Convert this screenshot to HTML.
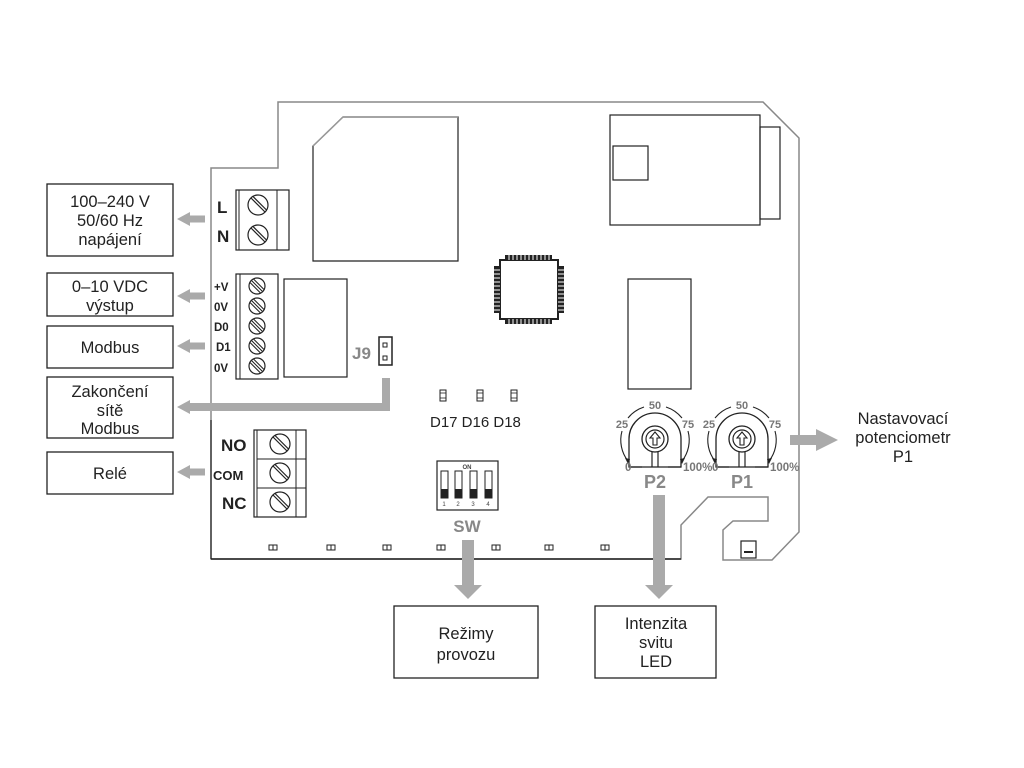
<!DOCTYPE html>
<html><head><meta charset="utf-8"><style>
html,body{margin:0;padding:0;background:#fff;}
svg{display:block;}
text{font-family:"Liberation Sans",sans-serif;}
</style></head><body>
<svg width="1024" height="768" viewBox="0 0 1024 768" xmlns="http://www.w3.org/2000/svg">
<defs>
<g id="scr"><circle r="10" fill="#fff" stroke="#222" stroke-width="1.2"/><line x1="-7" y1="-7" x2="7" y2="7" stroke="#222" stroke-width="1.2"/><line x1="-5" y1="-8.5" x2="8.5" y2="5" stroke="#222" stroke-width="1.2"/></g>
<g id="scs"><circle r="8" fill="#fff" stroke="#222" stroke-width="1.2"/><line x1="-5.5" y1="-5.5" x2="5.5" y2="5.5" stroke="#222" stroke-width="1.1"/><line x1="-3.5" y1="-7" x2="7" y2="3.5" stroke="#222" stroke-width="1.1"/><line x1="-7" y1="-3.5" x2="3.5" y2="7" stroke="#222" stroke-width="1.1"/></g>
<g id="lar"><polygon points="0,0 13,-7 13,-3.5 28,-3.5 28,3.5 13,3.5 13,7" fill="#aaa"/></g>
<g id="pad"><rect x="-4" y="-2" width="8" height="5" fill="#fff" stroke="#222" stroke-width="1"/><line x1="0" y1="-2" x2="0" y2="3" stroke="#222"/></g>
<g id="pot">
<path d="M-13,28 L-26,28 L-26,0 A26,26 0 1 1 26,0 L26,28 L13,28" fill="none" stroke="#222" stroke-width="1.3"/>
<line x1="-26" y1="28" x2="26" y2="28" stroke="#222" stroke-width="1.3"/>
<circle r="13" fill="#fff" stroke="#222" stroke-width="1.3"/>
<circle r="9" fill="#fff" stroke="#222" stroke-width="1.2"/>
<path d="M-2,6 L-2,-1 L-5,-1 L0,-7 L5,-1 L2,-1 L2,6 Z" fill="#fff" stroke="#222" stroke-width="1.1"/>
<line x1="-3" y1="13" x2="-3" y2="28" stroke="#222" stroke-width="1.2"/>
<line x1="3" y1="13" x2="3" y2="28" stroke="#222" stroke-width="1.2"/>
<path d="M-11,-32 A34,34 0 0 0 -27,-21" fill="none" stroke="#222" stroke-width="1.1"/>
<path d="M11,-32 A34,34 0 0 1 27,-21" fill="none" stroke="#222" stroke-width="1.1"/>
<path d="M-33,-8 A34,34 0 0 0 -27,22" fill="none" stroke="#222" stroke-width="1.1"/>
<path d="M33,-8 A34,34 0 0 1 27,22" fill="none" stroke="#222" stroke-width="1.1"/>
<polygon points="-27,25 -30,19 -25,20" fill="#222"/>
<polygon points="27,25 30,19 25,20" fill="#222"/>
<g font-weight="bold" font-size="11" fill="#777" text-anchor="middle">
<text x="0" y="-30">50</text><text x="-33" y="-11">25</text><text x="33" y="-11">75</text>
</g>
</g>
</defs>

<path d="M211,168 L211,559 L681,559 L681,525 L708,497 L768,497 L768,521 L733,521 L723,530 L723,560 L772,560 L799,532 L799,138 L763,102 L278,102 L278,168 Z" fill="none" stroke="#888" stroke-width="1.5"/>
<line x1="211" y1="559" x2="681" y2="559" stroke="#222" stroke-width="1.5"/>
<line x1="211" y1="420" x2="211" y2="559" stroke="#222" stroke-width="1.2"/>

<path d="M313,261 L313,146 L343,117 L458,117 L458,261 Z" fill="none" stroke="#222" stroke-width="1.2"/>
<path d="M313,146 L343,117 L458,117" fill="none" stroke="#999" stroke-width="1.5"/>

<rect x="610" y="115" width="150" height="110" fill="none" stroke="#222" stroke-width="1.2"/>
<rect x="613" y="146" width="35" height="34" fill="none" stroke="#222" stroke-width="1.2"/>
<rect x="760" y="127" width="20" height="92" fill="none" stroke="#222" stroke-width="1.2"/>

<rect x="500" y="260" width="58" height="59" fill="#fff" stroke="#222" stroke-width="2"/>
<g fill="#222">
<rect x="505" y="255" width="47" height="5"/><rect x="505" y="319" width="47" height="5"/>
<rect x="494" y="266" width="6" height="47"/><rect x="558" y="266" width="6" height="47"/>
</g>
<g stroke="#fff" stroke-width="1">
<path d="M509,255v5M513,255v5M517,255v5M521,255v5M525,255v5M529,255v5M533,255v5M537,255v5M541,255v5M545,255v5M549,255v5"/>
<path d="M509,319v5M513,319v5M517,319v5M521,319v5M525,319v5M529,319v5M533,319v5M537,319v5M541,319v5M545,319v5M549,319v5"/>
<path d="M494,270h6M494,274h6M494,278h6M494,282h6M494,286h6M494,290h6M494,294h6M494,298h6M494,302h6M494,306h6M494,310h6"/>
<path d="M558,270h6M558,274h6M558,278h6M558,282h6M558,286h6M558,290h6M558,294h6M558,298h6M558,302h6M558,306h6M558,310h6"/>
</g>

<rect x="628" y="279" width="63" height="110" fill="none" stroke="#222" stroke-width="1.2"/>

<rect x="236" y="190" width="53" height="60" fill="#fff" stroke="#222" stroke-width="1.2"/>
<line x1="239" y1="190" x2="239" y2="250" stroke="#222"/>
<line x1="277" y1="190" x2="277" y2="250" stroke="#222"/>
<use href="#scr" x="258" y="205"/><use href="#scr" x="258" y="235"/>
<text x="217" y="213" font-size="17" font-weight="bold" fill="#222">L</text>
<text x="217" y="242" font-size="17" font-weight="bold" fill="#222">N</text>

<rect x="236" y="274" width="42" height="105" fill="#fff" stroke="#222" stroke-width="1.2"/>
<line x1="240" y1="274" x2="240" y2="379" stroke="#222"/>
<use href="#scs" x="257" y="286"/><use href="#scs" x="257" y="306"/><use href="#scs" x="257" y="326"/><use href="#scs" x="257" y="346"/><use href="#scs" x="257" y="366"/>
<g font-size="11.5" font-weight="bold" fill="#222">
<text x="214" y="291">+V</text><text x="214" y="311">0V</text><text x="214" y="331">D0</text><text x="216" y="351">D1</text><text x="214" y="372">0V</text>
</g>
<rect x="284" y="279" width="63" height="98" fill="none" stroke="#222" stroke-width="1.2"/>

<rect x="379" y="337" width="13" height="28" fill="#fff" stroke="#222" stroke-width="1.5"/>
<rect x="383" y="343" width="4" height="4" fill="none" stroke="#222"/>
<rect x="383" y="356" width="4" height="4" fill="none" stroke="#222"/>
<text x="352" y="359" font-size="17" font-weight="bold" fill="#888">J9</text>

<rect x="254" y="430" width="52" height="87" fill="#fff" stroke="#222" stroke-width="1.2"/>
<line x1="257" y1="430" x2="257" y2="517" stroke="#222"/>
<line x1="296" y1="430" x2="296" y2="517" stroke="#222"/>
<line x1="257" y1="459" x2="306" y2="459" stroke="#222"/>
<line x1="257" y1="488" x2="306" y2="488" stroke="#222"/>
<use href="#scr" x="280" y="444"/><use href="#scr" x="280" y="473"/><use href="#scr" x="280" y="502"/>
<g font-weight="bold" fill="#222">
<text x="221" y="451" font-size="17">NO</text>
<text x="213" y="480" font-size="13">COM</text>
<text x="222" y="509" font-size="17">NC</text>
</g>

<g fill="#fff" stroke="#222" stroke-width="1">
<rect x="440" y="390" width="6" height="11"/><rect x="477" y="390" width="6" height="11"/><rect x="511" y="390" width="6" height="11"/>
</g>
<g stroke="#222" stroke-width="0.8"><line x1="440" y1="393" x2="446" y2="393"/><line x1="440" y1="398" x2="446" y2="398"/><line x1="477" y1="393" x2="483" y2="393"/><line x1="477" y1="398" x2="483" y2="398"/><line x1="511" y1="393" x2="517" y2="393"/><line x1="511" y1="398" x2="517" y2="398"/></g>
<text x="430" y="427" font-size="15" fill="#222">D17 D16 D18</text>

<rect x="437" y="461" width="61" height="49" fill="#fff" stroke="#222" stroke-width="1.2"/>
<text x="467" y="469" font-size="6" font-weight="bold" fill="#444" text-anchor="middle">ON</text>
<g fill="#fff" stroke="#222" stroke-width="1"><rect x="441" y="471" width="7" height="27"/><rect x="455" y="471" width="7" height="27"/><rect x="470" y="471" width="7" height="27"/><rect x="485" y="471" width="7" height="27"/></g>
<g fill="#222"><rect x="441" y="489" width="7" height="9"/><rect x="455" y="489" width="7" height="9"/><rect x="470" y="489" width="7" height="9"/><rect x="485" y="489" width="7" height="9"/></g>
<g font-size="6" fill="#444" text-anchor="middle"><text x="444" y="506">1</text><text x="458" y="506">2</text><text x="473" y="506">3</text><text x="488" y="506">4</text></g>
<text x="467" y="532" font-size="17" font-weight="bold" fill="#888" text-anchor="middle">SW</text>

<use href="#pad" x="273" y="547"/><use href="#pad" x="331" y="547"/><use href="#pad" x="387" y="547"/><use href="#pad" x="441" y="547"/><use href="#pad" x="496" y="547"/><use href="#pad" x="549" y="547"/><use href="#pad" x="605" y="547"/><use href="#pad" x="660" y="547"/>
<rect x="741" y="541" width="15" height="17" fill="#fff" stroke="#222" stroke-width="1.2"/>
<line x1="744" y1="552" x2="753" y2="552" stroke="#222" stroke-width="2"/>

<use href="#pot" x="655" y="439"/>
<use href="#pot" x="742" y="439"/>
<g font-weight="bold" font-size="11.5" fill="#777">
<text x="625" y="471">0</text><text x="683" y="471">100%</text>
<text x="712" y="471">0</text><text x="770" y="471">100%</text>
</g>
<text x="655" y="488" font-size="18" font-weight="bold" fill="#888" text-anchor="middle">P2</text>
<text x="742" y="488" font-size="18" font-weight="bold" fill="#888" text-anchor="middle">P1</text>

<rect x="382" y="378" width="8" height="33" fill="#aaa"/>
<rect x="190" y="403" width="200" height="8" fill="#aaa"/>
<polygon points="177,407 190,400 190,414" fill="#aaa"/>
<use href="#lar" x="177" y="219"/>
<use href="#lar" x="177" y="296"/>
<use href="#lar" x="177" y="346"/>
<use href="#lar" x="177" y="472"/>
<rect x="462" y="540" width="12" height="46" fill="#aaa"/>
<polygon points="454,585 482,585 468,599" fill="#aaa"/>
<rect x="653" y="495" width="12" height="90" fill="#aaa"/>
<polygon points="645,585 673,585 659,599" fill="#aaa"/>
<rect x="790" y="435" width="28" height="10" fill="#aaa"/>
<polygon points="816,429 838,440 816,451" fill="#aaa"/>

<g fill="#fff" stroke="#222" stroke-width="1.3">
<rect x="47" y="184" width="126" height="72"/>
<rect x="47" y="273" width="126" height="43"/>
<rect x="47" y="326" width="126" height="42"/>
<rect x="47" y="377" width="126" height="61"/>
<rect x="47" y="452" width="126" height="42"/>
<rect x="394" y="606" width="144" height="72"/>
<rect x="595" y="606" width="121" height="72"/>
</g>
<g font-size="16.5" fill="#222" text-anchor="middle">
<text x="110" y="207">100–240 V</text><text x="110" y="226">50/60 Hz</text><text x="110" y="245">napájení</text>
<text x="110" y="292">0–10 VDC</text><text x="110" y="311">výstup</text>
<text x="110" y="353">Modbus</text>
<text x="110" y="397">Zakončení</text><text x="110" y="416">sítě</text><text x="110" y="434">Modbus</text>
<text x="110" y="479">Relé</text>
<text x="466" y="639">Režimy</text><text x="466" y="660">provozu</text>
<text x="656" y="629">Intenzita</text><text x="656" y="648">svitu</text><text x="656" y="667">LED</text>
<text x="903" y="424">Nastavovací</text><text x="903" y="443">potenciometr</text><text x="903" y="462">P1</text>
</g>
</svg>
</body></html>
